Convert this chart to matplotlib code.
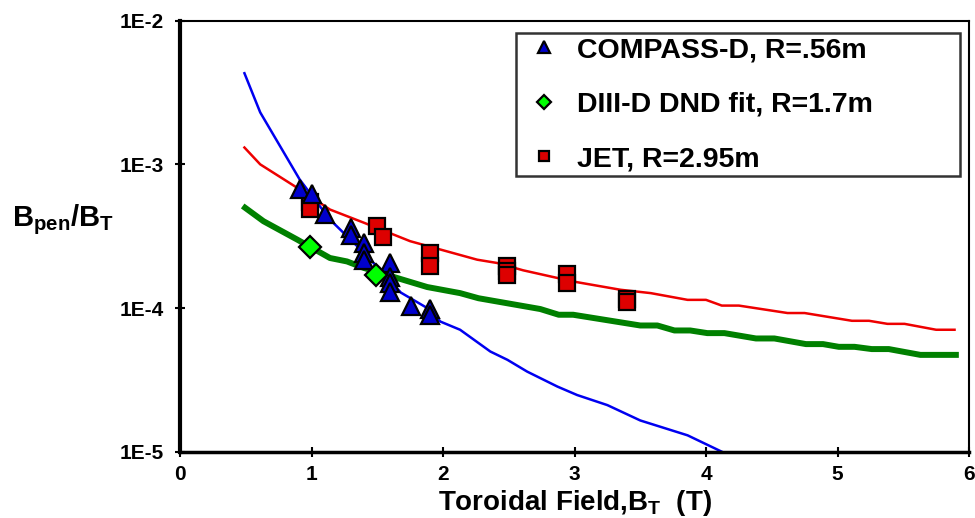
"""
Penetration field vs toroidal field, log plot
"""
import numpy as np
import matplotlib
matplotlib.use('Agg')
import matplotlib.pyplot as plt
from matplotlib.ticker import NullLocator

plt.rcParams['font.family'] = ['Liberation Sans', 'DejaVu Sans']
plt.rcParams['font.weight'] = 'bold'
plt.rcParams['mathtext.fontset'] = 'custom'
plt.rcParams['mathtext.rm'] = 'Liberation Sans:bold'
plt.rcParams['mathtext.bf'] = 'Liberation Sans:bold'
plt.rcParams['mathtext.it'] = 'Liberation Sans:bold'

# scaling fit lines
compass_fit_x = [0.49, 0.61, 0.91, 1.14, 1.40, 1.68, 1.88, 1.98, 2.13, 2.36, 2.49,
                 2.64, 2.87, 3.02, 3.25, 3.50, 3.86, 4.12]
compass_fit_y = [4.31e-3, 2.30e-3, 7.85e-4, 4.13e-4, 2.42e-4, 1.28e-4, 1.00e-4, 8.05e-5,
                 7.06e-5, 4.98e-5, 4.36e-5, 3.61e-5, 2.84e-5, 2.48e-5, 2.11e-5, 1.65e-5,
                 1.30e-5, 1.00e-5]

jet_fit_x = [0.49, 0.61, 0.89, 1.14, 1.40, 1.75, 2.26, 2.41, 2.61, 2.99, 3.35, 3.58,
             3.86, 4.00, 4.12, 4.25, 4.62, 4.75, 5.11, 5.24, 5.38, 5.51, 5.75, 5.89]
jet_fit_y = [1.31e-3, 1.00e-3, 6.88e-4, 4.85e-4, 3.92e-4, 2.92e-4, 2.17e-4, 2.06e-4,
             1.83e-4, 1.53e-4, 1.34e-4, 1.27e-4, 1.14e-4, 1.14e-4, 1.04e-4, 1.04e-4,
             9.23e-5, 9.23e-5, 8.15e-5, 8.15e-5, 7.76e-5, 7.76e-5, 7.06e-5, 7.06e-5]

diiid_fit_x = [0.495, 0.635, 0.89, 1.14, 1.27, 1.40, 1.65, 1.88, 2.13, 2.27, 2.74, 2.88,
               2.99, 3.50, 3.63, 3.76, 3.88, 4.01, 4.14, 4.38, 4.52, 4.76, 4.89, 5.01,
               5.13, 5.26, 5.39, 5.63, 5.90]
diiid_fit_y = [4.99e-4, 4.02e-4, 3.00e-4, 2.23e-4, 2.11e-4, 1.90e-4, 1.62e-4, 1.40e-4,
               1.27e-4, 1.17e-4, 9.84e-5, 8.98e-5, 8.98e-5, 7.56e-5, 7.56e-5, 6.98e-5,
               6.98e-5, 6.69e-5, 6.69e-5, 6.14e-5, 6.14e-5, 5.61e-5, 5.61e-5, 5.37e-5,
               5.37e-5, 5.18e-5, 5.18e-5, 4.72e-5, 4.72e-5]

# measured points
compass_x = [0.91, 1.0, 1.1, 1.3, 1.3, 1.4, 1.4, 1.4, 1.6, 1.6, 1.6, 1.6, 1.76, 1.9, 1.9]
compass_y = [6.7e-4, 6.2e-4, 4.5e-4, 3.6e-4, 3.2e-4, 2.85e-4, 2.4e-4, 2.15e-4, 2.05e-4,
             1.65e-4, 1.5e-4, 1.3e-4, 1.03e-4, 9.8e-5, 9.0e-5]

diiid_x = [0.99, 1.49]
diiid_y = [2.67e-4, 1.71e-4]

jet_x = [0.99, 0.99, 1.5, 1.54, 1.9, 1.9, 2.49, 2.49, 2.49, 2.94, 2.94, 3.4, 3.4]
jet_y = [5.5e-4, 4.9e-4, 3.7e-4, 3.1e-4, 2.4e-4, 1.95e-4, 1.95e-4, 1.8e-4, 1.7e-4,
         1.73e-4, 1.5e-4, 1.16e-4, 1.1e-4]

x_ticks = [0, 1, 2, 3, 4, 5, 6]
y_ticks = [1e-5, 1e-4, 1e-3, 1e-2]
y_tick_labels = ['1E-5', '1E-4', '1E-3', '1E-2']

fig = plt.figure(figsize=(9.75, 5.18), dpi=100)
ax = fig.add_axes([180 / 975, 1 - 451.7 / 518, 789 / 975, 431 / 518])

# fit lines
ax.plot(compass_fit_x, compass_fit_y, color='#0000f0', lw=1.8, zorder=2)
ax.plot(jet_fit_x, jet_fit_y, color='#ee0000', lw=1.8, zorder=2)
ax.plot(diiid_fit_x, diiid_fit_y, color='#008000', lw=4.3, zorder=2)

# data markers
ax.plot(compass_x, compass_y, '^', ms=13.5, mfc='#0000cc', mec='black', mew=1.6,
        ls='none', zorder=4, label='COMPASS-D, R=.56m')
ax.plot(diiid_x, diiid_y, 'D', ms=11.5, mfc='#00ff00', mec='black', mew=1.6,
        ls='none', zorder=4, label='DIII-D DND fit, R=1.7m')
ax.plot(jet_x, jet_y, 's', ms=11.5, mfc='#dd0000', mec='black', mew=1.6,
        ls='none', zorder=3, label='JET, R=2.95m')

ax.set_yscale('log')
ax.set_xlim(0, 6)
ax.set_ylim(1e-5, 1e-2)
ax.set_xticks(x_ticks)
ax.set_xticklabels([str(t) for t in x_ticks])
ax.set_yticks(y_ticks)
ax.set_yticklabels(y_tick_labels)
ax.yaxis.set_minor_locator(NullLocator())

ax.tick_params(axis='both', direction='inout', length=7, width=1.5)
ax.tick_params(axis='x', labelsize=15, pad=6)
ax.tick_params(axis='y', labelsize=15, pad=8)
for lab in ax.get_xticklabels() + ax.get_yticklabels():
    lab.set_fontweight('bold')

ax.spines['left'].set_linewidth(3)
ax.spines['bottom'].set_linewidth(2.5)
ax.spines['top'].set_linewidth(1.5)
ax.spines['right'].set_linewidth(1.5)

fig.text(12 / 975, 1 - 220 / 518, r'$\mathbf{B_{pen}/B_T}$', fontsize=21,
         ha='left', va='center')
fig.text(575 / 975, 1 - 503 / 518, r'Toroidal Field,$\mathbf{B_T}$  (T)', fontsize=20,
         fontweight='bold', ha='center', va='center')

leg = ax.legend(loc='upper left', bbox_to_anchor=(516 / 975, 1 - 180 / 518, 444 / 975, 147 / 518),
                bbox_transform=fig.transFigure, mode='expand', borderaxespad=0,
                markerscale=0.65, frameon=True, fancybox=False,
                labelspacing=1.0, borderpad=0.15, handlelength=1.7, handletextpad=0.3,
                prop={'weight': 'bold', 'size': 20.5})
leg.get_frame().set_edgecolor('black')
leg.get_frame().set_linewidth(1.8)

fig.savefig('out.png', dpi=100)
